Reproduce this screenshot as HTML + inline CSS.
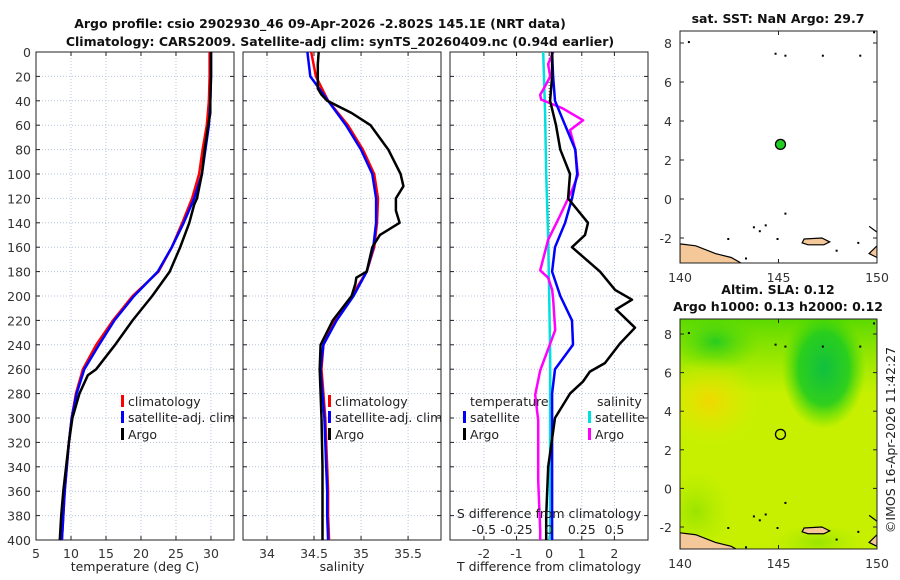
<!DOCTYPE html>
<html><head><meta charset="utf-8"><style>
body{margin:0;background:#fff}
svg{display:block;font-family:"DejaVu Sans","Liberation Sans",sans-serif}
</style></head><body>
<svg id="fig" width="900" height="580" viewBox="0 0 900 580" xmlns="http://www.w3.org/2000/svg">
<defs>
<radialGradient id="gDark" cx="50%" cy="50%" r="50%"><stop offset="0" stop-color="#10c040"/><stop offset="0.6" stop-color="#20cc20" stop-opacity="0.9"/><stop offset="1" stop-color="#40d800" stop-opacity="0"/></radialGradient>
<radialGradient id="gGreen" cx="50%" cy="50%" r="50%"><stop offset="0" stop-color="#28cc20"/><stop offset="1" stop-color="#60dc00" stop-opacity="0"/></radialGradient>
<radialGradient id="gOrange" cx="50%" cy="50%" r="50%"><stop offset="0" stop-color="#f0d800"/><stop offset="1" stop-color="#e0ec00" stop-opacity="0"/></radialGradient>
<radialGradient id="gLight" cx="50%" cy="50%" r="50%"><stop offset="0" stop-color="#9ae400"/><stop offset="1" stop-color="#b0ea00" stop-opacity="0"/></radialGradient>
<linearGradient id="gTop" x1="0" y1="0" x2="0" y2="1"><stop offset="0" stop-color="#40d400" stop-opacity="0.8"/><stop offset="1" stop-color="#60dc00" stop-opacity="0"/></linearGradient>
</defs>
<g id="root"></g>
</svg>
<script>
// ---------- data ----------
const depthStd = [0,20,40,60,80,100,120,140,160,180,200,220,240,260,280,300,320,340,360,380,400];
const tempClim = [29.8,29.8,29.7,29.4,28.8,28.3,27.3,25.9,24.4,22.5,18.8,16.0,13.6,11.7,10.7,10.1,9.7,9.4,9.1,8.9,8.7];
const tempSat  = [30.0,30.0,29.9,29.7,29.2,28.7,27.6,26.1,24.4,22.4,19.0,16.2,14.0,11.9,10.8,10.1,9.7,9.4,9.1,8.9,8.7];
const argoTDepth = [0,20,40,50,60,80,100,120,125,140,160,180,200,220,240,260,265,280,300,320,340,360,380,400];
const argoTemp   = [30.0,30.0,29.9,29.9,29.6,29.1,28.7,28.0,27.6,26.9,25.6,24.1,21.6,18.8,16.3,13.6,12.4,11.2,10.2,9.7,9.3,8.9,8.6,8.4];
const salClim = [34.47,34.52,34.65,34.86,35.02,35.14,35.18,35.17,35.14,35.06,34.9,34.72,34.6,34.58,34.6,34.62,34.63,34.64,34.65,34.65,34.66];
const salSat  = [34.43,34.46,34.65,34.84,35.0,35.12,35.16,35.16,35.13,35.06,34.92,34.74,34.6,34.57,34.59,34.61,34.62,34.63,34.64,34.64,34.65];
const argoSDepth = [0,10,30,35,40,50,60,80,100,110,120,130,140,150,160,180,185,190,200,220,240,260,280,300,340,400];
const argoSal    = [34.55,34.54,34.54,34.58,34.64,34.9,35.1,35.29,35.42,35.45,35.37,35.37,35.41,35.2,35.12,35.06,34.95,34.94,34.9,34.7,34.57,34.56,34.57,34.58,34.59,34.59];
const tSatDiffDepth = [0,20,40,60,80,100,120,140,160,180,200,220,240,260,280,300,400];
const tSatDiff = [0.09,0.12,0.18,0.49,0.8,0.86,0.7,0.49,0.18,0.09,0.34,0.7,0.73,0.18,0.09,0.09,0.09];
const tArgoDiffDepth = [0,20,40,60,80,100,120,140,150,160,180,195,203,211,226,239,255,262,270,280,300,340,380,400];
const tArgoDiff = [0.09,0.09,0.03,0.21,0.34,0.64,0.58,1.19,1.1,0.7,1.56,2.02,2.54,2.05,2.63,2.17,1.71,1.25,1.04,0.64,0.18,-0.03,-0.09,-0.09];
const sSatDiffDepth = [0,50,100,150,200,250,300,400];
const sSatDiff = [-0.046,-0.031,-0.023,-0.008,0,0.008,0.008,0.008];
const sArgoDiffDepth = [0,10,20,28,35,39,46,56,64,80,101,113,134,154,179,185,195,203,228,239,261,281,302,351,392,400];
const sArgoDiff = [0.031,-0.008,0.008,-0.031,-0.069,-0.061,0.099,0.26,0.16,0.2,0.22,0.176,0.084,-0.008,-0.069,-0.008,0.023,0.031,0.046,0.008,-0.069,-0.107,-0.084,-0.084,-0.069,-0.069];
const depthTicks = [0,20,40,60,80,100,120,140,160,180,200,220,240,260,280,300,320,340,360,380,400];
const tempTicks = [5,10,15,20,25,30];
const salTicks = [34,34.5,35,35.5];
const tDiffTicks = [-2,-1,0,1,2];
const sDiffTicks = ["-0.5","-0.25","0","0.25","0.5"];
const argoLon = [145.1];
const argoLat = [2.8];
const latTicks = [8,6,4,2,0,-2];
const lonTicks = [140,145,150];

// ---------- helpers ----------
const NS = "http://www.w3.org/2000/svg";
const root = document.getElementById('root');
const FS = 12.5;
function mk(tag, attrs, parent, txt){
  const e = document.createElementNS(NS, tag);
  for (const k in attrs) e.setAttribute(k, attrs[k]);
  if (txt !== undefined) e.textContent = txt;
  (parent||root).appendChild(e);
  return e;
}
const TOP = 52, BOT = 540;
const yD = d => TOP + d * (BOT - TOP) / 400;

function panel(name, x0, w, xmin, xmax, ticks, labels, showY){
  const g = mk('g', {}, root);
  
  
  const sx = v => x0 + (v - xmin) / (xmax - xmin) * w;
  ticks.forEach(t => mk('line', {x1:sx(t), x2:sx(t), y1:TOP, y2:BOT, stroke:'#b8c4e0', 'stroke-width':1, 'stroke-dasharray':'1,2'}, g));
  depthTicks.forEach(d => mk('line', {x1:x0, x2:x0+w, y1:yD(d), y2:yD(d), stroke:'#b8c4e0', 'stroke-width':1, 'stroke-dasharray':'1,2'}, g));
  depthTicks.forEach(d => {
    mk('line', {x1:x0, x2:x0+4, y1:yD(d), y2:yD(d), stroke:'#222'}, g);
    mk('line', {x1:x0+w-4, x2:x0+w, y1:yD(d), y2:yD(d), stroke:'#222'}, g);
    if (showY) mk('text', {x:x0-5, y:yD(d)+5, 'font-size':FS, 'text-anchor':'end', fill:'#333'}, g, String(d));
  });
  ticks.forEach((t,i) => {
    mk('line', {x1:sx(t), x2:sx(t), y1:BOT, y2:BOT-4, stroke:'#222'}, g);
    mk('line', {x1:sx(t), x2:sx(t), y1:TOP, y2:TOP+4, stroke:'#222'}, g);
    mk('text', {x:sx(t), y:BOT+18, 'font-size':FS, 'text-anchor':'middle', fill:'#333'}, g, labels ? labels[i] : String(t));
  });
  mk('rect', {x:x0, y:TOP, width:w, height:BOT-TOP, fill:'none', stroke:'#222', 'stroke-width':1}, g);
  return {g, sx};
}
function curve(p, vals, depths, color, name, scale){
  const pts = vals.map((v,i) => p.sx(v*(scale||1)).toFixed(1) + ',' + yD(depths[i]).toFixed(1)).join(' ');
  const e = mk('polyline', {points:pts, fill:'none', stroke:color, 'stroke-width':2.5, 'stroke-linejoin':'round'}, p.g);
  
  
}
function legendEntry(g, x, y, color, label, name){
  const e = mk('g', {}, g);
  
  
  mk('rect', {x:x, y:y-11, width:3, height:12, fill:color}, e);
  mk('text', {x:x+7, y:y, 'font-size':FS, fill:'#222'}, e, label);
}

// ---------- titles ----------
let t1 = mk('text', {x:320, y:28, 'font-size':FS, 'font-weight':'bold', 'text-anchor':'middle', fill:'#111'}, root, 'Argo profile: csio 2902930_46 09-Apr-2026 -2.802S 145.1E (NRT data)');


let t2 = mk('text', {x:340, y:46, 'font-size':FS, 'font-weight':'bold', 'text-anchor':'middle', fill:'#111'}, root, 'Climatology: CARS2009. Satellite-adj clim: synTS_20260409.nc (0.94d earlier)');



// ---------- temperature panel ----------
const pT = panel('temperature-panel', 36, 198, 5, 33.29, tempTicks, null, true);
curve(pT, tempClim, depthStd, '#ff0000', 'temp-climatology-line');
curve(pT, tempSat, depthStd, '#0000ff', 'temp-satellite-line');
curve(pT, argoTemp, argoTDepth, '#000000', 'temp-argo-line');
mk('text', {x:135, y:571, 'font-size':FS, 'text-anchor':'middle', fill:'#222'}, pT.g, 'temperature (deg C)');
legendEntry(pT.g, 121, 406, '#ff0000', 'climatology', 'legend-temp-climatology');
legendEntry(pT.g, 121, 422, '#0000ff', 'satellite-adj. clim', 'legend-temp-satellite');
legendEntry(pT.g, 121, 439, '#000000', 'Argo', 'legend-temp-argo');

// ---------- salinity panel ----------
const pS = panel('salinity-panel', 243, 198, 33.745, 35.85, salTicks, null, false);
curve(pS, salClim, depthStd, '#ff0000', 'sal-climatology-line');
curve(pS, salSat, depthStd, '#0000ff', 'sal-satellite-line');
curve(pS, argoSal, argoSDepth, '#000000', 'sal-argo-line');
mk('text', {x:342, y:571, 'font-size':FS, 'text-anchor':'middle', fill:'#222'}, pS.g, 'salinity');
legendEntry(pS.g, 328, 406, '#ff0000', 'climatology', 'legend-sal-climatology');
legendEntry(pS.g, 328, 422, '#0000ff', 'satellite-adj. clim', 'legend-sal-satellite');
legendEntry(pS.g, 328, 439, '#000000', 'Argo', 'legend-sal-argo');

// ---------- difference panel ----------
const pD = panel('difference-panel', 450, 198, -3.04, 3.03, tDiffTicks, null, false);
mk('line', {x1:pD.sx(0), x2:pD.sx(0), y1:TOP, y2:yD(230), stroke:'#444', 'stroke-width':1, 'stroke-dasharray':'1,2'}, pD.g);
curve(pD, sSatDiff, sSatDiffDepth, '#00e0e0', 'sal-satellite-diff-line', 4);
curve(pD, sArgoDiff, sArgoDiffDepth, '#ff00ff', 'sal-argo-diff-line', 4);
curve(pD, tSatDiff, tSatDiffDepth, '#0000ff', 'temp-satellite-diff-line');
curve(pD, tArgoDiff, tArgoDiffDepth, '#000000', 'temp-argo-diff-line');
mk('text', {x:549, y:571, 'font-size':FS, 'text-anchor':'middle', fill:'#222'}, pD.g, 'T difference from climatology');
mk('text', {x:549, y:518, 'font-size':FS, 'text-anchor':'middle', fill:'#222'}, pD.g, 'S difference from climatology');
sDiffTicks.forEach(s => mk('text', {x:pD.sx(parseFloat(s)*4), y:534, 'font-size':FS, 'text-anchor':'middle', fill:'#222'}, pD.g, s));
mk('text', {x:470, y:406, 'font-size':FS, fill:'#222'}, pD.g, 'temperature');
mk('text', {x:597, y:406, 'font-size':FS, fill:'#222'}, pD.g, 'salinity');
legendEntry(pD.g, 463, 422, '#0000ff', 'satellite', 'legend-diff-temp-satellite');
legendEntry(pD.g, 463, 439, '#000000', 'Argo', 'legend-diff-temp-argo');
legendEntry(pD.g, 588, 422, '#00e0e0', 'satellite', 'legend-diff-sal-satellite');
legendEntry(pD.g, 588, 439, '#ff00ff', 'Argo', 'legend-diff-sal-argo');

// ---------- maps ----------
function mapPanel(name, top, bot, lat8y, latm2y, filled){
  const g = mk('g', {}, root);
  
  
  const x0 = 680, x1 = 877;
  const sx = lo => x0 + (lo - 140) / 10 * (x1 - x0);
  const sy = la => lat8y + (8 - la) / 10 * (latm2y - lat8y);
  const clip = 'clip-' + name;
  const cp = mk('clipPath', {id:clip}, g);
  mk('rect', {x:x0, y:top, width:x1-x0, height:bot-top}, cp);
  const inner = mk('g', {'clip-path':'url(#'+clip+')'}, g);
  if (!filled){
    mk('rect', {x:x0, y:top, width:x1-x0, height:bot-top, fill:'#c6f000'}, inner);
    mk('rect', {x:x0, y:top, width:x1-x0, height:75, fill:'url(#gTop)'}, inner);
    mk('ellipse', {cx:sx(147.3), cy:sy(6.2), rx:42, ry:60, fill:'url(#gDark)'}, inner);
    mk('ellipse', {cx:sx(141.8), cy:sy(7.6), rx:45, ry:30, fill:'url(#gGreen)'}, inner);
    mk('ellipse', {cx:sx(141.5), cy:sy(4.5), rx:50, ry:45, fill:'url(#gOrange)'}, inner);
    mk('ellipse', {cx:sx(140.8), cy:sy(-1.2), rx:35, ry:40, fill:'url(#gLight)'}, inner);
    mk('ellipse', {cx:sx(147), cy:sy(-2.8), rx:45, ry:18, fill:'url(#gLight)'}, inner);
  }
  // land
  mk('path', {d:`M${sx(140)},${sy(-2.3)} L${sx(140.8)},${sy(-2.4)} L${sx(141.8)},${sy(-2.8)} L${sx(142.6)},${sy(-3.0)} L${sx(143.3)},${sy(-3.4)} L${sx(140)},${sy(-3.4)} Z`, fill:'#f5c89a', stroke:'#000', 'stroke-width':1.2}, inner);
  mk('path', {d:`M${sx(146.3)},${sy(-2.05)} L${sx(147.2)},${sy(-2.0)} L${sx(147.6)},${sy(-2.2)} L${sx(147.3)},${sy(-2.35)} L${sx(146.5)},${sy(-2.35)} L${sx(146.2)},${sy(-2.25)} Z`, fill:'#f5c89a', stroke:'#000', 'stroke-width':1.2}, inner);
  mk('path', {d:`M${sx(149.6)},${sy(-2.8)} L${sx(150)},${sy(-2.4)} L${sx(150)},${sy(-3.0)} Z`, fill:'#f5c89a', stroke:'#000', 'stroke-width':1.2}, inner);
  mk('path', {d:`M${sx(149.6)},${sy(-1.4)} L${sx(150)},${sy(-1.7)}`, stroke:'#000', 'stroke-width':1.2}, inner);
  [[140.4,8.1],[145.3,7.4],[144.8,7.5],[147.2,7.4],[149.1,7.4],[149.8,8.6],[142.4,-2.0],[143.7,-1.4],[144.0,-1.6],[144.3,-1.3],[144.9,-2.0],[145.3,-0.7],[149,-2.2],[147.9,-2.6],[143.3,-3.0]].forEach(p => mk('rect', {x:sx(p[0]), y:sy(p[1]), width:2, height:2, fill:'#000'}, inner));
  // marker
  const m = mk('circle', {cx:sx(argoLon[0]), cy:sy(argoLat[0]), r:5, fill:filled?'#22cc22':'none', stroke:'#000', 'stroke-width':1.3}, g);
  
  
  mk('rect', {x:x0, y:top, width:x1-x0, height:bot-top, fill:'none', stroke:'#222'}, g);
  latTicks.forEach(la => {
    mk('line', {x1:x0, x2:x0+4, y1:sy(la), y2:sy(la), stroke:'#222'}, g);
    mk('line', {x1:x1-4, x2:x1, y1:sy(la), y2:sy(la), stroke:'#222'}, g);
    mk('text', {x:x0-8, y:sy(la)+5, 'font-size':FS, 'text-anchor':'end', fill:'#333'}, g, String(la));
  });
  lonTicks.forEach(lo => {
    mk('line', {x1:sx(lo), x2:sx(lo), y1:bot, y2:bot-4, stroke:'#222'}, g);
    mk('line', {x1:sx(lo), x2:sx(lo), y1:top, y2:top+4, stroke:'#222'}, g);
    mk('text', {x:sx(lo), y:bot+19, 'font-size':FS, 'text-anchor':'middle', fill:'#333'}, g, String(lo));
  });
  return g;
}
const mTop = mapPanel('sst-map', 31, 263, 43, 238, true);
mk('text', {x:778, y:23, 'font-size':FS, 'font-weight':'bold', 'text-anchor':'middle', fill:'#111'}, mTop, 'sat. SST: NaN Argo: 29.7');
const mBot = mapPanel('sla-map', 319, 549, 334, 527, false);
mk('text', {x:778, y:294, 'font-size':FS, 'font-weight':'bold', 'text-anchor':'middle', fill:'#111'}, mBot, 'Altim. SLA: 0.12');
mk('text', {x:778, y:311, 'font-size':FS, 'font-weight':'bold', 'text-anchor':'middle', fill:'#111'}, mBot, 'Argo h1000: 0.13 h2000: 0.12');
const stamp = mk('text', {x:0, y:0, 'font-size':FS, 'text-anchor':'middle', fill:'#222', transform:'translate(895,440) rotate(-90)'}, root, '©IMOS 16-Apr-2026 11:42:27');


</script>
</body></html>
